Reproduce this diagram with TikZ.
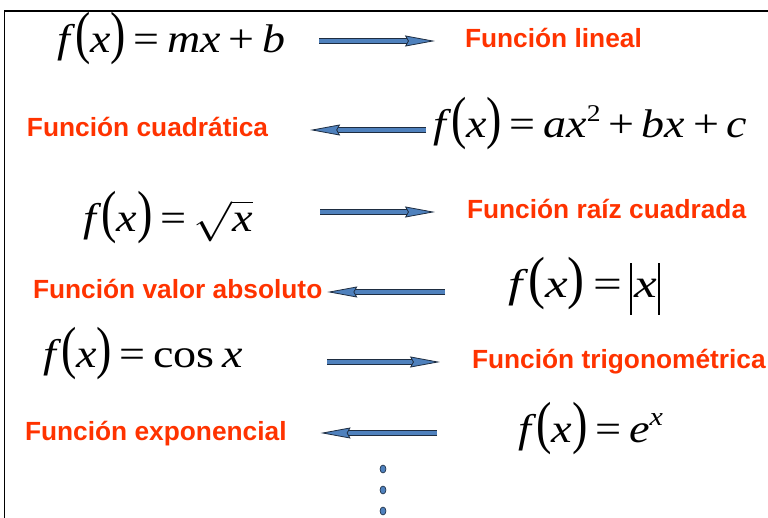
\RequirePackage{fix-cm}
\documentclass[tikz,border=0pt]{standalone}
\usepackage{graphicx}
\usepackage{fontspec}
\setmainfont{Liberation Serif}
\newfontfamily\labelfont{Liberation Sans}
\usetikzlibrary{arrows.meta}
\definecolor{labelred}{RGB}{255,51,0}
\definecolor{arrowblue}{RGB}{79,129,189}
\definecolor{arrowdark}{RGB}{30,45,65}
\newcommand\itl[1]{\textit{#1}}
\newcommand\lpar{\scalebox{1}[1.45]{(}}
\newcommand\rpar{\scalebox{1}[1.45]{)}}
\newcommand\vbar{\rule[-17pt]{1.2pt}{52pt}}
\newcommand\eqs{\thinspace=\thinspace}
\newcommand\fitw[2]{\resizebox{#1}{\height}{#2}}
\begin{document}
\begin{tikzpicture}[x=1pt,y=-1pt,
  formula/.style={inner sep=0pt,outer sep=0pt,anchor=base west,font=\fontsize{40}{44}\selectfont},
  kind/.style={inner sep=0pt,outer sep=0pt,anchor=base west,text height=19pt,text depth=5pt,text=labelred,font=\labelfont\bfseries\fontsize{26.3}{30}\selectfont},
  conn/.style={draw=arrowdark,line width=.8pt,double=arrowblue,double distance=3.6pt,
    -{Stealth[length=30pt,width=11pt,inset=3pt,fill=arrowblue,color=arrowdark,line width=.8pt]}}]
\path[use as bounding box] (0,0) rectangle (768,518);
\draw[line width=1.4pt] (4.5,518) -- (4.5,11) -- (768,11);
% lineal
\node[formula] (m1) at (57,53) {\fitw{228pt}{\itl{f}\lpar\itl{x}\rpar\eqs\itl{mx}\thinspace+\thinspace\itl{b}}};
\node[kind] (l1) at (465,48) {Función lineal};
\draw[conn,shorten <=34pt,shorten >=30pt] (m1.east |- l1) -- (l1);
% cuadratica
\node[kind] (l2) at (27,137) {Función cuadrática};
\node[formula] (m2) at (433,138) {\fitw{314pt}{\itl{f}\lpar\itl{x}\rpar\eqs\itl{ax}\raisebox{16pt}{\fontsize{24}{24}\selectfont 2}\thinspace+\thinspace\itl{bx}\thinspace+\thinspace\itl{c}}};
\draw[conn,shorten <=7pt,shorten >=42pt] (m2.west |- l2) -- (l2);
% raiz
\node[formula] (m3) at (83,232) {\fitw{170pt}{\itl{f}\lpar\itl{x}\rpar\eqs$\sqrt{\itl{x}}$}};
\node[kind] (l3) at (467,219) {Función raíz cuadrada};
\draw[conn,shorten <=67pt,shorten >=32pt] (m3.east |- l3) -- (l3);
% valor absoluto
\node[kind] (l4) at (33,299) {Función valor absoluto};
\node[formula] (m4) at (508,298) {\fitw{152pt}{\itl{f}\lpar\itl{x}\rpar\eqs\vbar\kern2pt\itl{x}\kern1pt\vbar}};
\draw[conn,shorten <=63pt,shorten >=5pt] (m4.west |- l4) -- (l4);
% trigonometrica
\node[formula] (m5) at (43,368) {\fitw{200pt}{\itl{f}\lpar\itl{x}\rpar\eqs cos\thinspace\itl{x}}};
\node[kind] (l5) at (472,369) {Función trigonométrica};
\draw[conn,shorten <=84pt,shorten >=32pt] (m5.east |- l5) -- (l5);
% exponencial
\node[kind] (l6) at (25,440) {Función exponencial};
\node[formula] (m6) at (518,442) {\fitw{145pt}{\itl{f}\lpar\itl{x}\rpar\eqs\itl{e}\raisebox{17pt}{\fontsize{26}{26}\selectfont\itshape x}}};
\draw[conn,shorten <=81pt,shorten >=34pt] (m6.west |- l6) -- (l6);
% dots
\foreach \y in {469,490,511}
  \filldraw[fill=arrowblue,draw=arrowdark,line width=.6pt] (383,\y) ellipse [x radius=3pt,y radius=4pt];
\end{tikzpicture}
\end{document}
